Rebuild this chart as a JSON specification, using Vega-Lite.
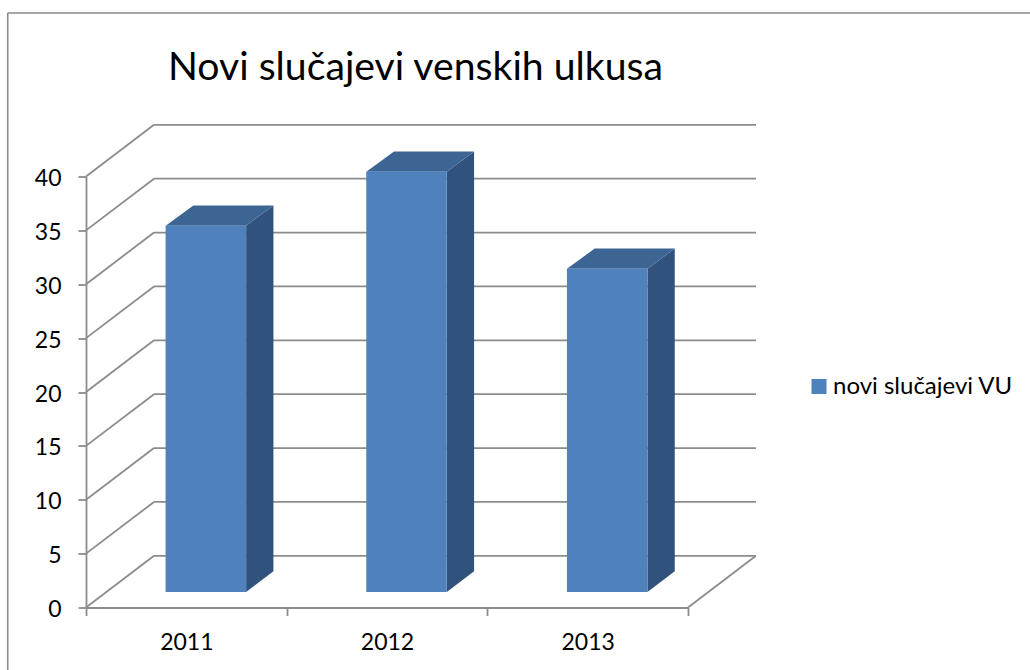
{
"$schema":"https://vega.github.io/schema/vega-lite/v6.json",
"width":602,"height":431,
"autosize":"none",
"padding":{"left":86,"top":176.5,"right":342,"bottom":62.5},
"background":"white",
"title":{"text":"Novi slučajevi venskih ulkusa","anchor":"start","frame":"group","dx":82,"dy":107,"offset":0,"baseline":"alphabetic","font":"Lato","fontSize":39.2,"fontWeight":"normal","color":"#000000"},
"config":{"view":{"stroke":null}},
"datasets":{
"bars":[{"year":"2011","value":34,"series":"novi slučajevi VU"},{"year":"2012","value":39,"series":"novi slučajevi VU"},{"year":"2013","value":30,"series":"novi slučajevi VU"}],
"ticks":[{"v":0},{"v":5},{"v":10},{"v":15},{"v":20},{"v":25},{"v":30},{"v":35},{"v":40}],
"sides":[
{"year":"2011","x":0.798,"low":1.44,"high":35.44},{"year":"2011","x":0.934,"low":3.36,"high":37.31},
{"year":"2012","x":1.798,"low":1.44,"high":40.44},{"year":"2012","x":1.934,"low":3.36,"high":42.31},
{"year":"2013","x":2.798,"low":1.44,"high":31.44},{"year":"2013","x":2.934,"low":3.36,"high":33.31}],
"tops":[
{"year":"2011","level":35.44,"left":0.397,"right":0.798},{"year":"2011","level":37.31,"left":0.535,"right":0.934},
{"year":"2012","level":40.44,"left":1.397,"right":1.798},{"year":"2012","level":42.31,"left":1.535,"right":1.934},
{"year":"2013","level":31.44,"left":2.397,"right":2.798},{"year":"2013","level":33.31,"left":2.535,"right":2.934}]
},
"layer":[
{"layer":[
{"data":{"name":"ticks"},"mark":{"type":"rule","color":"#8c8c8c","strokeWidth":1.8,"xOffset":68,"x2Offset":68,"yOffset":-51.7,"y2Offset":-51.7},
 "encoding":{"x":{"datum":0,"type":"quantitative","scale":{"domain":[0,3]},"axis":null},"x2":{"datum":3},"y":{"field":"v","type":"quantitative","scale":{"domain":[0,40]},"axis":{"values":[0,5,10,15,20,25,30,35,40],"title":null,"grid":false,"domainColor":"#8c8c8c","domainWidth":1.8,"tickColor":"#8c8c8c","tickWidth":1.8,"tickSize":8,"labelFont":"Lato","labelFontSize":23,"labelColor":"#000000","labelPadding":17,"labelOffset":2}}}},
{"data":{"name":"ticks"},"mark":{"type":"rule","color":"#8c8c8c","strokeWidth":1.8,"x2Offset":68,"y2Offset":-51.7},
 "encoding":{"x":{"datum":0,"type":"quantitative"},"x2":{"datum":0},"y":{"field":"v","type":"quantitative"},"y2":{"field":"v"}}},
{"data":{"values":[{"v":0}]},"mark":{"type":"rule","color":"#8c8c8c","strokeWidth":1.8,"x2Offset":68,"y2Offset":-51.7},
 "encoding":{"x":{"datum":3,"type":"quantitative"},"x2":{"datum":3},"y":{"field":"v","type":"quantitative"},"y2":{"field":"v"}}},
{"data":{"values":[{"a":1}]},"mark":{"type":"rule","color":"#8a8a8a","strokeWidth":1.6},
 "encoding":{"x":{"datum":-0.39,"type":"quantitative"},"x2":{"datum":-0.39},"y":{"datum":55.18,"type":"quantitative"},"y2":{"datum":-5.8}}},
{"data":{"values":[{"a":1}]},"mark":{"type":"rule","color":"#8a8a8a","strokeWidth":1.6},
 "encoding":{"x":{"datum":-0.39,"type":"quantitative"},"x2":{"datum":4.71},"y":{"datum":55.18,"type":"quantitative"}}},
{"data":{"name":"sides"},"mark":{"type":"area","color":"#31527C","interpolate":"linear"},
 "encoding":{"x":{"field":"x","type":"quantitative"},"y":{"field":"low","type":"quantitative"},"y2":{"field":"high"},"detail":{"field":"year"}}},
{"data":{"name":"tops"},"mark":{"type":"area","color":"#3D6594","orient":"horizontal","interpolate":"linear"},
 "encoding":{"y":{"field":"level","type":"quantitative"},"x":{"field":"left","type":"quantitative"},"x2":{"field":"right"},"detail":{"field":"year"}}}
]},
{"data":{"name":"bars"},"mark":{"type":"bar","width":80.5,"xOffset":19.5,"x2Offset":19.5,"yOffset":-15.5,"y2Offset":-15.5},
 "encoding":{
 "x":{"field":"year","type":"nominal","scale":{"paddingInner":0,"paddingOuter":0},"axis":{"orient":"bottom","title":null,"labelAngle":0,"tickBand":"extent","domainColor":"#8c8c8c","domainWidth":1.8,"tickColor":"#8c8c8c","tickWidth":1.8,"tickSize":8,"labelFont":"Lato","labelFontSize":23,"labelColor":"#000000","labelPadding":16}},
 "y":{"field":"value","type":"quantitative"},
 "color":{"field":"series","type":"nominal","scale":{"range":["#4F81BD"]},"legend":{"title":null,"orient":"none","legendX":721,"legendY":198,"symbolType":"square","symbolSize":225,"symbolStrokeWidth":0,"labelFont":"Lato","labelFontSize":24,"labelColor":"#000000","labelOffset":2,"labelLimit":400}}
 }}
],
"resolve":{"scale":{"x":"independent"},"axis":{"x":"independent"}}
}
